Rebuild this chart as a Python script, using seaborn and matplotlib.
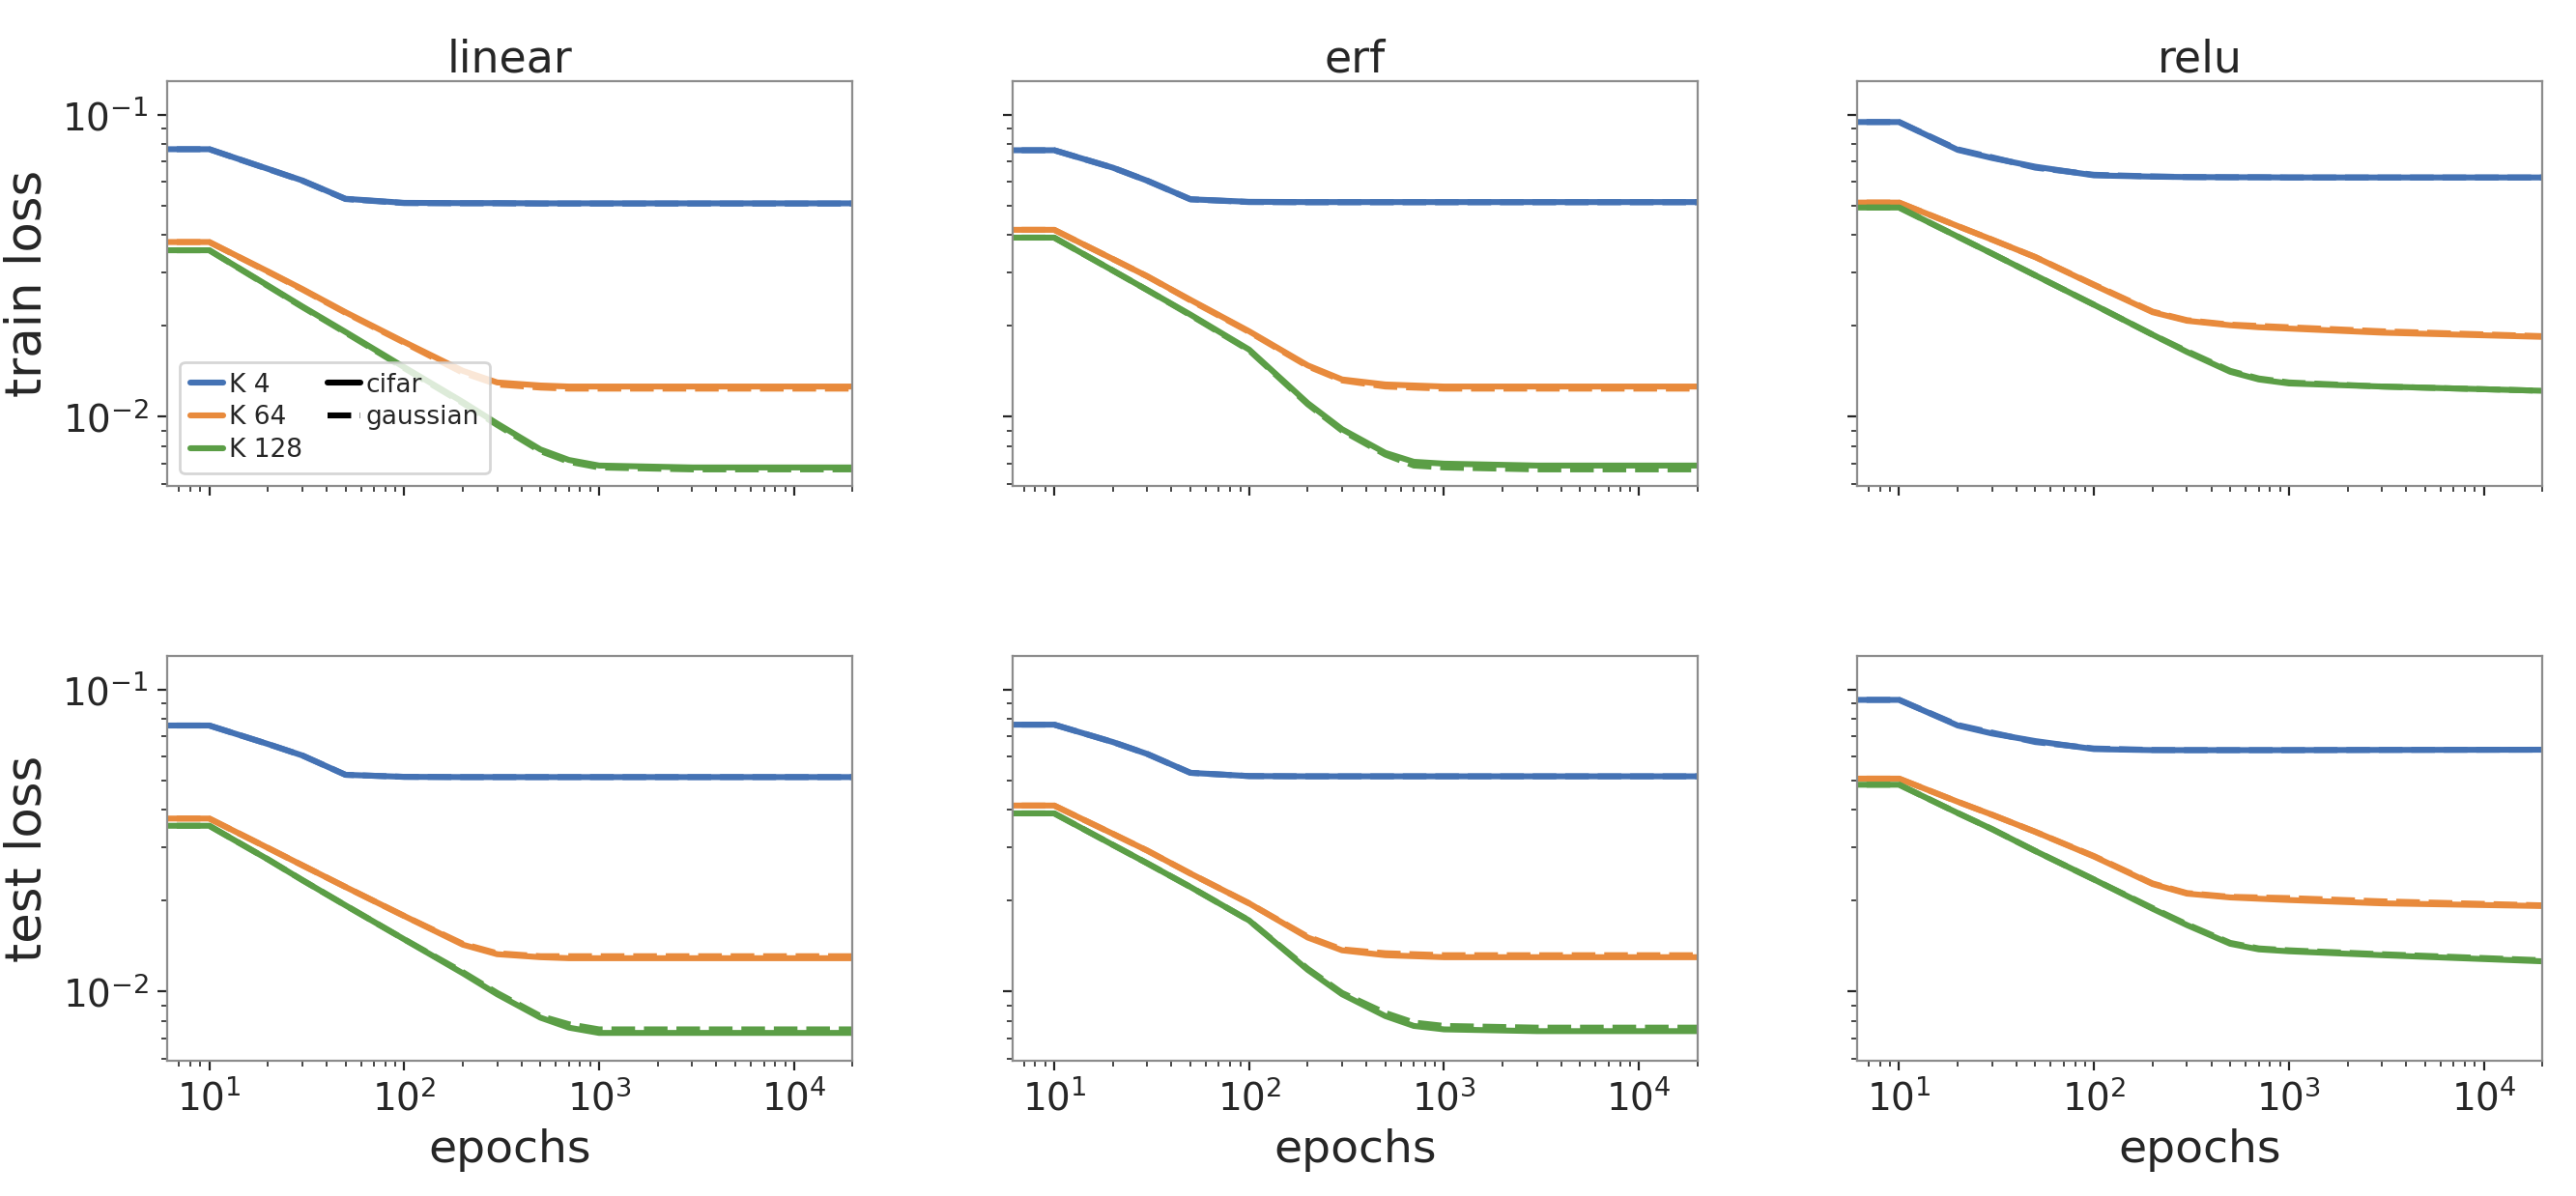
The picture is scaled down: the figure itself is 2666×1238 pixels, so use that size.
import pandas as pd
import seaborn as sns
import matplotlib.pyplot as plt
from matplotlib.lines import Line2D

epochs = [1, 10, 20, 30, 50, 100, 200, 300, 500, 700, 1000, 3000, 20000]

k_labels = ['K 4', 'K 64', 'K 128']
activations = ['linear', 'erf', 'relu']
splits = ['train', 'test']
datasets = ['cifar', 'gaussian']

# ---- linear ----
lin_train_cifar_k4 = [0.0769, 0.0769, 0.0662, 0.0606, 0.0527, 0.0511, 0.0510, 0.0510, 0.0509, 0.0509, 0.0509, 0.0509, 0.0509]
lin_train_cifar_k64 = [0.0379, 0.0379, 0.0303, 0.0265, 0.0222, 0.0177, 0.0142, 0.0130, 0.0127, 0.0126, 0.0126, 0.0126, 0.0126]
lin_train_cifar_k128 = [0.0356, 0.0356, 0.0272, 0.0232, 0.0191, 0.0146, 0.0112, 0.0095, 0.0078, 0.0072, 0.0069, 0.0068, 0.0068]
lin_train_gauss_k4 = [0.0769, 0.0769, 0.0661, 0.0605, 0.0526, 0.0510, 0.0509, 0.0509, 0.0508, 0.0508, 0.0508, 0.0508, 0.0508]
lin_train_gauss_k64 = [0.0379, 0.0379, 0.0302, 0.0264, 0.0221, 0.0176, 0.0140, 0.0128, 0.0125, 0.0124, 0.0124, 0.0124, 0.0124]
lin_train_gauss_k128 = [0.0356, 0.0356, 0.0271, 0.0231, 0.0190, 0.0145, 0.0111, 0.0094, 0.0077, 0.0071, 0.0068, 0.0067, 0.0067]

lin_test_cifar_k4 = [0.0760, 0.0760, 0.0660, 0.0605, 0.0522, 0.0514, 0.0513, 0.0513, 0.0513, 0.0513, 0.0513, 0.0513, 0.0513]
lin_test_cifar_k64 = [0.0374, 0.0374, 0.0299, 0.0262, 0.0222, 0.0178, 0.0143, 0.0133, 0.0130, 0.0129, 0.0129, 0.0129, 0.0129]
lin_test_cifar_k128 = [0.0354, 0.0354, 0.0274, 0.0234, 0.0193, 0.0149, 0.0115, 0.0098, 0.0082, 0.0076, 0.0073, 0.0073, 0.0073]
lin_test_gauss_k4 = [0.0760, 0.0760, 0.0660, 0.0605, 0.0522, 0.0514, 0.0513, 0.0513, 0.0513, 0.0513, 0.0513, 0.0513, 0.0513]
lin_test_gauss_k64 = [0.0374, 0.0374, 0.0299, 0.0262, 0.0222, 0.0178, 0.0144, 0.0134, 0.0131, 0.0131, 0.0131, 0.0131, 0.0131]
lin_test_gauss_k128 = [0.0354, 0.0354, 0.0274, 0.0234, 0.0193, 0.0149, 0.0116, 0.0099, 0.0083, 0.0078, 0.0075, 0.0075, 0.0075]

# ---- erf ----
erf_train_cifar_k4 = [0.0763, 0.0763, 0.0668, 0.0605, 0.0525, 0.0515, 0.0514, 0.0514, 0.0514, 0.0514, 0.0514, 0.0514, 0.0514]
erf_train_cifar_k64 = [0.0416, 0.0416, 0.0333, 0.0292, 0.0244, 0.0192, 0.0148, 0.0133, 0.0128, 0.0127, 0.0126, 0.0126, 0.0126]
erf_train_cifar_k128 = [0.0392, 0.0392, 0.0305, 0.0263, 0.0218, 0.0167, 0.0111, 0.0091, 0.0076, 0.0071, 0.0070, 0.0069, 0.0069]
erf_train_gauss_k4 = [0.0763, 0.0763, 0.0668, 0.0605, 0.0525, 0.0514, 0.0513, 0.0513, 0.0513, 0.0513, 0.0513, 0.0513, 0.0513]
erf_train_gauss_k64 = [0.0416, 0.0416, 0.0333, 0.0292, 0.0243, 0.0191, 0.0147, 0.0132, 0.0126, 0.0125, 0.0124, 0.0124, 0.0124]
erf_train_gauss_k128 = [0.0392, 0.0392, 0.0305, 0.0263, 0.0217, 0.0166, 0.0110, 0.0090, 0.0075, 0.0069, 0.0068, 0.0067, 0.0067]

erf_test_cifar_k4 = [0.0765, 0.0765, 0.0670, 0.0612, 0.0530, 0.0517, 0.0516, 0.0516, 0.0516, 0.0516, 0.0516, 0.0516, 0.0516]
erf_test_cifar_k64 = [0.0413, 0.0413, 0.0333, 0.0293, 0.0246, 0.0196, 0.0151, 0.0137, 0.0132, 0.0131, 0.0130, 0.0130, 0.0130]
erf_test_cifar_k128 = [0.0389, 0.0389, 0.0306, 0.0266, 0.0222, 0.0172, 0.0118, 0.0098, 0.0083, 0.0077, 0.0075, 0.0074, 0.0074]
erf_test_gauss_k4 = [0.0765, 0.0765, 0.0670, 0.0612, 0.0530, 0.0517, 0.0516, 0.0516, 0.0516, 0.0516, 0.0516, 0.0516, 0.0516]
erf_test_gauss_k64 = [0.0413, 0.0413, 0.0333, 0.0293, 0.0246, 0.0196, 0.0152, 0.0138, 0.0134, 0.0133, 0.0132, 0.0132, 0.0132]
erf_test_gauss_k128 = [0.0389, 0.0389, 0.0306, 0.0266, 0.0222, 0.0172, 0.0119, 0.0099, 0.0085, 0.0079, 0.0077, 0.0076, 0.0076]

# ---- relu ----
relu_train_cifar_k4 = [0.0946, 0.0946, 0.0765, 0.0719, 0.0673, 0.0630, 0.0624, 0.0622, 0.0621, 0.0621, 0.0620, 0.0620, 0.0620]
relu_train_cifar_k64 = [0.0512, 0.0512, 0.0428, 0.0386, 0.0338, 0.0273, 0.0222, 0.0208, 0.0201, 0.0198, 0.0196, 0.0190, 0.0184]
relu_train_cifar_k128 = [0.0493, 0.0493, 0.0395, 0.0347, 0.0294, 0.0235, 0.0187, 0.0164, 0.0141, 0.0133, 0.0129, 0.0126, 0.0122]
relu_train_gauss_k4 = [0.0946, 0.0946, 0.0768, 0.0723, 0.0668, 0.0633, 0.0625, 0.0622, 0.0621, 0.0621, 0.0620, 0.0620, 0.0620]
relu_train_gauss_k64 = [0.0512, 0.0512, 0.0428, 0.0386, 0.0338, 0.0274, 0.0223, 0.0209, 0.0202, 0.0200, 0.0198, 0.0192, 0.0185]
relu_train_gauss_k128 = [0.0493, 0.0493, 0.0395, 0.0347, 0.0294, 0.0235, 0.0187, 0.0165, 0.0142, 0.0134, 0.0130, 0.0126, 0.0122]

relu_test_cifar_k4 = [0.0924, 0.0924, 0.0760, 0.0715, 0.0675, 0.0635, 0.0630, 0.0630, 0.0630, 0.0630, 0.0630, 0.0631, 0.0632]
relu_test_cifar_k64 = [0.0507, 0.0507, 0.0425, 0.0385, 0.0338, 0.0280, 0.0227, 0.0211, 0.0205, 0.0203, 0.0201, 0.0196, 0.0192]
relu_test_cifar_k128 = [0.0484, 0.0484, 0.0390, 0.0345, 0.0292, 0.0235, 0.0188, 0.0166, 0.0144, 0.0138, 0.0136, 0.0132, 0.0126]
relu_test_gauss_k4 = [0.0924, 0.0924, 0.0763, 0.0720, 0.0670, 0.0638, 0.0631, 0.0630, 0.0630, 0.0630, 0.0630, 0.0631, 0.0632]
relu_test_gauss_k64 = [0.0507, 0.0507, 0.0425, 0.0385, 0.0338, 0.0281, 0.0228, 0.0212, 0.0206, 0.0205, 0.0204, 0.0199, 0.0193]
relu_test_gauss_k128 = [0.0484, 0.0484, 0.0390, 0.0345, 0.0292, 0.0235, 0.0189, 0.0167, 0.0145, 0.0139, 0.0137, 0.0133, 0.0127]

series = {
    ('linear', 'train', 'cifar'): [lin_train_cifar_k4, lin_train_cifar_k64, lin_train_cifar_k128],
    ('linear', 'train', 'gaussian'): [lin_train_gauss_k4, lin_train_gauss_k64, lin_train_gauss_k128],
    ('linear', 'test', 'cifar'): [lin_test_cifar_k4, lin_test_cifar_k64, lin_test_cifar_k128],
    ('linear', 'test', 'gaussian'): [lin_test_gauss_k4, lin_test_gauss_k64, lin_test_gauss_k128],
    ('erf', 'train', 'cifar'): [erf_train_cifar_k4, erf_train_cifar_k64, erf_train_cifar_k128],
    ('erf', 'train', 'gaussian'): [erf_train_gauss_k4, erf_train_gauss_k64, erf_train_gauss_k128],
    ('erf', 'test', 'cifar'): [erf_test_cifar_k4, erf_test_cifar_k64, erf_test_cifar_k128],
    ('erf', 'test', 'gaussian'): [erf_test_gauss_k4, erf_test_gauss_k64, erf_test_gauss_k128],
    ('relu', 'train', 'cifar'): [relu_train_cifar_k4, relu_train_cifar_k64, relu_train_cifar_k128],
    ('relu', 'train', 'gaussian'): [relu_train_gauss_k4, relu_train_gauss_k64, relu_train_gauss_k128],
    ('relu', 'test', 'cifar'): [relu_test_cifar_k4, relu_test_cifar_k64, relu_test_cifar_k128],
    ('relu', 'test', 'gaussian'): [relu_test_gauss_k4, relu_test_gauss_k64, relu_test_gauss_k128],
}

rows = []
for (act, split, ds), curves in series.items():
    for k, vals in zip(k_labels, curves):
        for e, v in zip(epochs, vals):
            rows.append({'act': act, 'split': split, 'data': ds, 'K': k, 'epochs': e, 'loss': v})
df = pd.DataFrame(rows)

colors = ['#4472B4', '#E88A3C', '#5B9E46']
palette = dict(zip(k_labels, colors))

sns.set_style('ticks', {'axes.edgecolor': '0.55', 'xtick.color': '0.15', 'ytick.color': '0.15'})
plt.rcParams['font.family'] = ['DejaVu Sans']

fig, axes = plt.subplots(2, 3, figsize=(13.33, 6.19), dpi=200, sharex=True, sharey=True)
fig.subplots_adjust(left=0.065, right=0.987, bottom=0.113, top=0.932, wspace=0.233, hspace=0.42)

for r, split in enumerate(splits):
    for c, act in enumerate(activations):
        ax = axes[r, c]
        ax.set_xscale('log')
        ax.set_yscale('log')
        sub = df[(df['act'] == act) & (df['split'] == split)]
        sns.lineplot(data=sub, x='epochs', y='loss', hue='K', style='data',
                     hue_order=k_labels, style_order=datasets, palette=palette,
                     dashes={'cifar': '', 'gaussian': (4, 1.5)},
                     estimator=None, linewidth=2.2, legend=False, ax=ax)
        ax.set_xlim(6.1, 2.0e4)
        ax.set_ylim(0.0059, 0.129)
        ax.set_xlabel('epochs', fontsize=17)
        ax.set_ylabel(f'{split} loss', fontsize=18.5)
        ax.tick_params(axis='both', which='major', labelsize=14)
        for side in ['top', 'right']:
            ax.spines[side].set_visible(True)
        if r == 0:
            ax.set_title(act, fontsize=16.5, pad=3)

handles = [Line2D([], [], color=col, lw=2.2) for col in colors]
handles += [Line2D([], [], color='black', lw=2.2),
            Line2D([], [], color='black', lw=2.2, dashes=(4, 1.5))]
labels = k_labels + datasets
axes[0, 0].legend(handles, labels, ncol=2, loc='lower left', fontsize=9.5,
                  handlelength=1.3, handletextpad=0.2, columnspacing=1.0,
                  labelspacing=0.3, framealpha=0.8)

plt.savefig('out.png', dpi=200)
